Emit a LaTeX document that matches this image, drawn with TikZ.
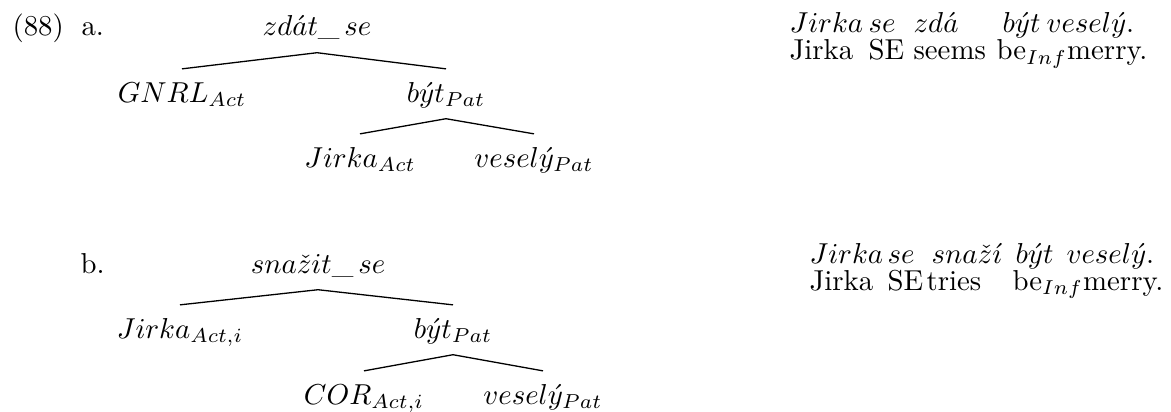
\documentclass[tikz,border=0pt]{standalone}
\begin{document}
\begin{tikzpicture}[x=0.347pt,y=-0.347pt,
  lbl/.style={inner sep=0pt, anchor=base west},
  tn/.style={inner sep=0pt, text height=11.3pt, text depth=5.6pt, anchor=base},
  gw/.style={inner sep=0pt, anchor=base west},
  edge/.style={line width=0.45pt}]
\useasboundingbox (0,0) rectangle (1171,412);

% ---- (88a): tree
\node[lbl] (ex) at (12,36) {(88)};
\node[lbl] (la) at (81,36) {a.};
\node[tn] (a0) at (317,36) {$zd\acute{a}t\_\,se$};
\node[tn] (a1) at (182,102) {$GNRL_{Act}$};
\node[tn] (a2) at (446,102) {$b\acute{y}t_{Pat}$};
\node[tn] (a3) at (360,167) {$Jirka_{Act}$};
\node[tn] (a4) at (534,167) {$vesel\acute{y}_{Pat}$};
\draw[edge] (a1.north) -- (a0.south) -- (a2.north);
\draw[edge] (a3.north) -- (a2.south) -- (a4.north);

% ---- (88a): sentence and gloss
\node[gw] (sa1) at (789,32) {$Jirka$};
\node[gw] (sa2) at (868,32) {$se$};
\node[gw] (sa3) at (913,32) {$zd\acute{a}$};
\node[gw] (sa4) at (1002,32) {$b\acute{y}t$};
\node[gw] (sa5) at (1046,32) {$vesel\acute{y}.$};
\node[gw] (ga1) at (789,60) {Jirka};
\node[gw] (ga2) at (868,60) {SE};
\node[gw] (ga3) at (913,60) {seems};
\node[gw] (ga4) at (996,60) {be$_{Inf}$merry.};

% ---- (88b): tree
\node[lbl] (lb) at (80,273) {b.};
\node[tn] (b0) at (318,273) {$sna\check{z}it\_\,se$};
\node[tn] (b1) at (180,338) {$Jirka_{Act,i}$};
\node[tn] (b2) at (453,338) {$b\acute{y}t_{Pat}$};
\node[tn] (b3) at (364,404) {$COR_{Act,i}$};
\node[tn] (b4) at (543,404) {$vesel\acute{y}_{Pat}$};
\draw[edge] (b1.north) -- (b0.south) -- (b2.north);
\draw[edge] (b3.north) -- (b2.south) -- (b4.north);

% ---- (88b): sentence and gloss
\node[gw] (sb1) at (809,263) {$Jirka$};
\node[gw] (sb2) at (887,263) {$se$};
\node[gw] (sb3) at (931,263) {$sna\check{z}\acute{\imath}$};
\node[gw] (sb4) at (1015,263) {$b\acute{y}t$};
\node[gw] (sb5) at (1066,263) {$vesel\acute{y}.$};
\node[gw] (gb1) at (809,290) {Jirka};
\node[gw] (gb2) at (887,290) {SE};
\node[gw] (gb3) at (926,290) {tries};
\node[gw] (gb4) at (1012,290) {be$_{Inf}$merry.};
\end{tikzpicture}
\end{document}
